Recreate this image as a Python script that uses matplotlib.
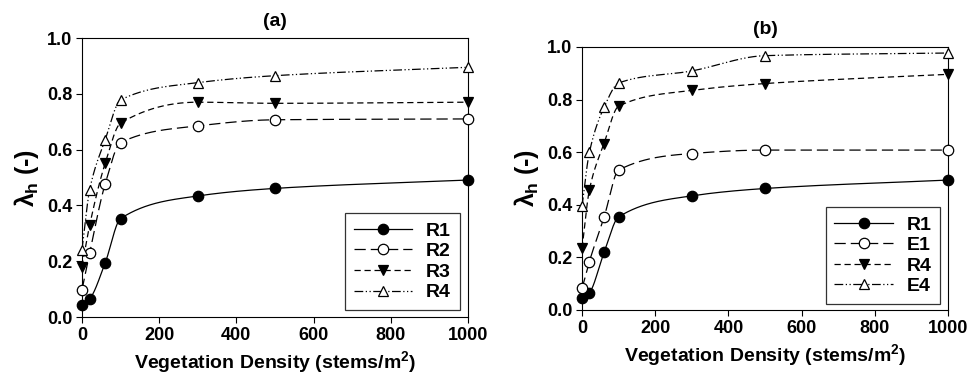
import numpy as np
import matplotlib
matplotlib.use("Agg")
from matplotlib import pyplot as plt

plt.rcParams['font.family'] = ['Liberation Sans', 'DejaVu Sans']
plt.rcParams['font.weight'] = 'bold'
plt.rcParams['axes.labelweight'] = 'bold'
plt.rcParams['axes.titleweight'] = 'bold'
plt.rcParams['mathtext.fontset'] = 'custom'
plt.rcParams['mathtext.rm'] = 'Liberation Sans:bold'
plt.rcParams['mathtext.it'] = 'Liberation Sans:bold'
plt.rcParams['mathtext.bf'] = 'Liberation Sans:bold'

density = [0, 20, 60, 100, 300, 500, 1000]

# panel (a)
a_r1 = [0.045, 0.066, 0.194, 0.353, 0.434, 0.461, 0.491]
a_r2 = [0.098, 0.231, 0.477, 0.625, 0.685, 0.707, 0.710]
a_r3 = [0.180, 0.330, 0.551, 0.695, 0.770, 0.766, 0.770]
a_r4 = [0.242, 0.457, 0.635, 0.778, 0.840, 0.865, 0.895]
a_names = ["R1", "R2", "R3", "R4"]

# panel (b)
b_r1 = [0.047, 0.066, 0.219, 0.354, 0.434, 0.462, 0.494]
b_e1 = [0.082, 0.184, 0.352, 0.532, 0.595, 0.608, 0.608]
b_r4 = [0.234, 0.456, 0.633, 0.775, 0.835, 0.861, 0.896]
b_e4 = [0.395, 0.599, 0.770, 0.863, 0.909, 0.967, 0.977]
b_names = ["R1", "E1", "R4", "E4"]

xticks = [0, 200, 400, 600, 800, 1000]
yticks = [0.0, 0.2, 0.4, 0.6, 0.8, 1.0]

styles = [
    dict(ls='-', marker='o', mfc='black'),
    dict(ls=(0, (9, 4)), marker='o', mfc='white'),
    dict(ls=(0, (5, 3)), marker='v', mfc='black'),
    dict(ls=(0, (7, 2, 1, 2, 1, 2)), marker='^', mfc='white'),
]


def pchip(x, y, xn):
    # monotone cubic, just for drawing a smooth line through the points
    x = np.asarray(x, float)
    y = np.asarray(y, float)
    h = np.diff(x)
    d = np.diff(y) / h
    m = np.zeros_like(y)
    for k in range(1, len(x) - 1):
        if d[k-1] * d[k] > 0:
            w1 = 2*h[k] + h[k-1]
            w2 = h[k] + 2*h[k-1]
            m[k] = (w1 + w2) / (w1/d[k-1] + w2/d[k])
    m[0] = d[0]
    m[-1] = d[-1]
    out = np.empty_like(xn)
    for i, v in enumerate(xn):
        k = min(np.searchsorted(x, v, side='right') - 1, len(x) - 2)
        t = (v - x[k]) / h[k]
        h00 = 2*t**3 - 3*t**2 + 1
        h10 = t**3 - 2*t**2 + t
        h01 = -2*t**3 + 3*t**2
        h11 = t**3 - t**2
        out[i] = h00*y[k] + h10*h[k]*m[k] + h01*y[k+1] + h11*h[k]*m[k+1]
    return out


def panel(ax, series, names, title, anchor):
    xs = np.linspace(0, 1000, 2001)
    for ys, name, st in zip(series, names, styles):
        ax.plot(xs, pchip(density, ys, xs), color='black', lw=0.9, ls=st['ls'])
        ax.plot(density, ys, ls='none', marker=st['marker'], ms=7.5,
                mfc=st['mfc'], mec='black', mew=0.9, clip_on=False, zorder=3)
        # legend proxy
        ax.plot([], [], color='black', lw=0.9, ls=st['ls'], marker=st['marker'],
                ms=7.5, mfc=st['mfc'], mec='black', mew=0.9, label=name)
    ax.set_xlim(0, 1000)
    ax.set_ylim(0, 1.0)
    ax.set_xticks(xticks)
    ax.set_yticks(yticks)
    ax.set_yticklabels([f"{v:.1f}" for v in yticks])
    ax.tick_params(direction='out', length=4, width=0.8, labelsize=13, pad=3)
    for s in ax.spines.values():
        s.set_linewidth(0.8)
    ax.set_xlabel("Vegetation Density (stems/m$^2$)", fontsize=14, labelpad=4)
    ax.set_ylabel(r"$\lambda_h$ (-)", fontsize=18, labelpad=4)
    ax.set_title(title, fontsize=14, pad=9)
    leg = ax.legend(loc='lower right', fontsize=14, frameon=True, fancybox=False,
                    edgecolor='black', handlelength=3.0, borderpad=0.45,
                    labelspacing=0.15, handletextpad=0.7, borderaxespad=0,
                    bbox_to_anchor=anchor)
    leg.get_frame().set_linewidth(0.9)


fig = plt.figure(figsize=(9.67, 3.82), dpi=100)
ax1 = fig.add_axes([0.0848, 0.170, 0.399, 0.7305])
ax2 = fig.add_axes([0.6019, 0.1885, 0.3785, 0.6885])

panel(ax1, [a_r1, a_r2, a_r3, a_r4], a_names, "(a)", (0.979, 0.025))
panel(ax2, [b_r1, b_e1, b_r4, b_e4], b_names, "(b)", (0.978, 0.023))

fig.savefig("out.png", dpi=100)
